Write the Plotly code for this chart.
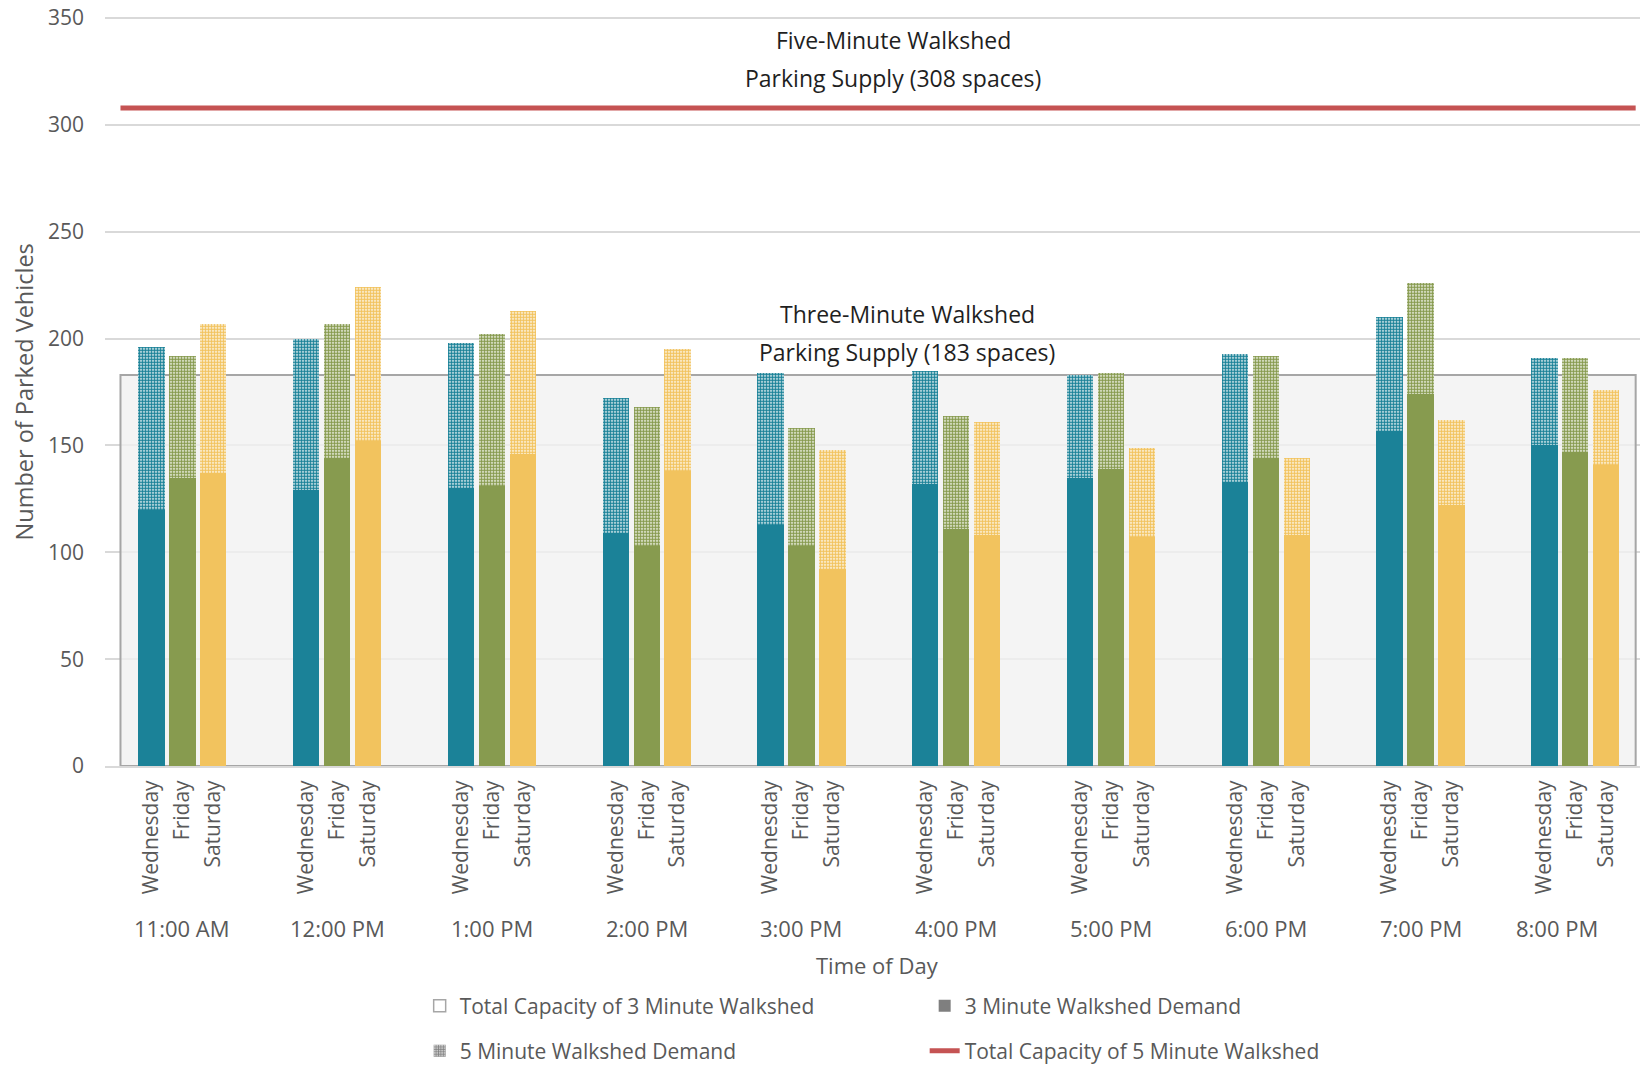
import plotly.graph_objects as go

times = ["11:00 AM", "12:00 PM", "1:00 PM", "2:00 PM", "3:00 PM",
         "4:00 PM", "5:00 PM", "6:00 PM", "7:00 PM", "8:00 PM"]
days = ["Wednesday", "Friday", "Saturday"]

# 3-minute walkshed demand (solid) and 5-minute walkshed demand (patterned top)
wed_3min = [120, 129, 130, 109, 113, 132, 135, 133, 157, 150]
wed_5min = [196, 200, 198, 172, 184, 185, 183, 193, 210, 191]
fri_3min = [135, 144, 131, 103, 103, 111, 139, 144, 174, 147]
fri_5min = [192, 207, 202, 168, 158, 164, 184, 192, 226, 191]
sat_3min = [137, 152, 146, 138, 92, 108, 107, 108, 122, 141]
sat_5min = [207, 224, 213, 195, 148, 161, 149, 144, 162, 176]

cap_3min = 183
cap_5min = 308

y_ticks = [0, 50, 100, 150, 200, 250, 300, 350]

# ---- styling / layout constants ----
colors = ["#1b8298", "#879b4f", "#f2c35e"]
offsets = [-0.2, 0.0, 0.2]
bar_w = 0.17
box_x0, box_x1 = -0.40, 9.39
label_shift = [0, 0, 0, 0, 0, 0, 0, 0, 0, -0.12]
FONT = "Open Sans"
TICK_C = "#595959"
TEXT_C = "#1f1f1f"
PATTERN = dict(shape=".", size=3, solidity=0.7, bgcolor="white", fillmode="replace")

demand3 = [wed_3min, fri_3min, sat_3min]
demand5 = [wed_5min, fri_5min, sat_5min]

fig = go.Figure()

for d in range(3):
    xs = [i + offsets[d] for i in range(len(times))]
    fig.add_trace(go.Bar(
        x=xs, y=demand5[d], width=bar_w, showlegend=False,
        marker=dict(color=colors[d], line=dict(width=0),
                    pattern=dict(PATTERN, fgcolor=colors[d])),
        name=f"{days[d]} 5 Minute Walkshed Demand"))
    fig.add_trace(go.Bar(
        x=xs, y=demand3[d], width=bar_w, showlegend=False,
        marker=dict(color=colors[d], line=dict(width=0)),
        name=f"{days[d]} 3 Minute Walkshed Demand"))

# red capacity line
fig.add_trace(go.Scatter(
    x=[box_x0, box_x1], y=[cap_5min, cap_5min], mode="lines",
    line=dict(color="#c55353", width=5),
    name="Total Capacity of 5 Minute Walkshed", legend="legend2",
    legendrank=2))

# legend-only entries
fig.add_trace(go.Bar(x=[None], y=[None], name="Total Capacity of 3 Minute Walkshed",
                     marker=dict(color="white", line=dict(color="#a6a6a6", width=1.5)),
                     legend="legend", legendrank=1))
fig.add_trace(go.Bar(x=[None], y=[None], name="3 Minute Walkshed Demand",
                     marker=dict(color="#7f7f7f", line=dict(width=0)),
                     legend="legend", legendrank=2))
fig.add_trace(go.Bar(x=[None], y=[None], name="5 Minute Walkshed Demand",
                     marker=dict(color="#7f7f7f", line=dict(width=0),
                                 pattern=dict(PATTERN, fgcolor="#7f7f7f")),
                     legend="legend2", legendrank=1))

# three-minute capacity box
fig.add_shape(type="rect", xref="x", yref="y", x0=box_x0, x1=box_x1,
              y0=0, y1=cap_3min, fillcolor="rgba(241,241,241,0.78)",
              line=dict(color="#a6a6a6", width=2), layer="between")

tickvals = [i + offsets[d] for i in range(len(times)) for d in range(3)]
ticktext = [days[d] for i in range(len(times)) for d in range(3)]

annotations = []
for i, t in enumerate(times):
    annotations.append(dict(x=i + label_shift[i], xref="x", y=-0.216, yref="paper",
                            text=t, showarrow=False, xanchor="center", yanchor="middle",
                            font=dict(family=FONT, size=22, color=TICK_C)))
annotations += [
    dict(x=0.503, y=-0.2653, xref="paper", yref="paper", text="Time of Day",
         showarrow=False, xanchor="center", yanchor="middle",
         font=dict(family=FONT, size=22, color=TICK_C)),
    dict(x=-0.0531, y=0.4987, xref="paper", yref="paper", text="Number of Parked Vehicles",
         textangle=-90, showarrow=False, xanchor="center", yanchor="middle",
         font=dict(family=FONT, size=23.5, color=TICK_C)),
    dict(x=0.5135, y=339.6, xref="paper", yref="y", text="Five-Minute Walkshed",
         showarrow=False, xanchor="center", yanchor="middle",
         font=dict(family=FONT, size=23, color=TEXT_C)),
    dict(x=0.5135, y=321.9, xref="paper", yref="y", text=f"Parking Supply ({cap_5min} spaces)",
         showarrow=False, xanchor="center", yanchor="middle",
         font=dict(family=FONT, size=23, color=TEXT_C)),
    dict(x=0.5226, y=211.4, xref="paper", yref="y", text="Three-Minute Walkshed",
         showarrow=False, xanchor="center", yanchor="middle",
         font=dict(family=FONT, size=23, color=TEXT_C)),
    dict(x=0.5226, y=193.6, xref="paper", yref="y", text=f"Parking Supply ({cap_3min} spaces)",
         showarrow=False, xanchor="center", yanchor="middle",
         font=dict(family=FONT, size=23, color=TEXT_C)),
]

legend_common = dict(orientation="h", xanchor="left", yanchor="middle",
                     entrywidth=460, entrywidthmode="pixels",
                     font=dict(family=FONT, size=21, color=TICK_C),
                     bgcolor="rgba(0,0,0,0)", traceorder="normal")

fig.update_layout(
    width=1640, height=1066,
    margin=dict(l=105, r=0, t=16, b=300, autoexpand=False),
    paper_bgcolor="white", plot_bgcolor="white",
    barmode="overlay", bargap=0,
    font=dict(family=FONT, size=21, color=TICK_C),
    xaxis=dict(range=[-0.5, 9.418], tickvals=tickvals, ticktext=ticktext,
               tickangle=-90, showgrid=False, zeroline=False,
               showline=True, linecolor="#d9d9d9", linewidth=2,
               ticks="", ticklabelstandoff=4,
               tickfont=dict(family=FONT, size=21, color=TICK_C)),
    yaxis=dict(range=[0, 351], tickvals=y_ticks, showgrid=True,
               gridcolor="#d9d9d9", gridwidth=1.5, zeroline=False,
               showline=False, ticks="", ticklabelstandoff=20,
               ticklabeloverflow="allow",
               tickfont=dict(family=FONT, size=21, color=TICK_C)),
    legend=dict(x=0.205, y=-0.32, **legend_common),
    legend2=dict(x=0.205, y=-0.38, **legend_common),
    annotations=annotations,
    showlegend=True,
)

fig.write_html("out.html", config={"displayModeBar": False},
               post_script="document.body.style.margin='0';")
